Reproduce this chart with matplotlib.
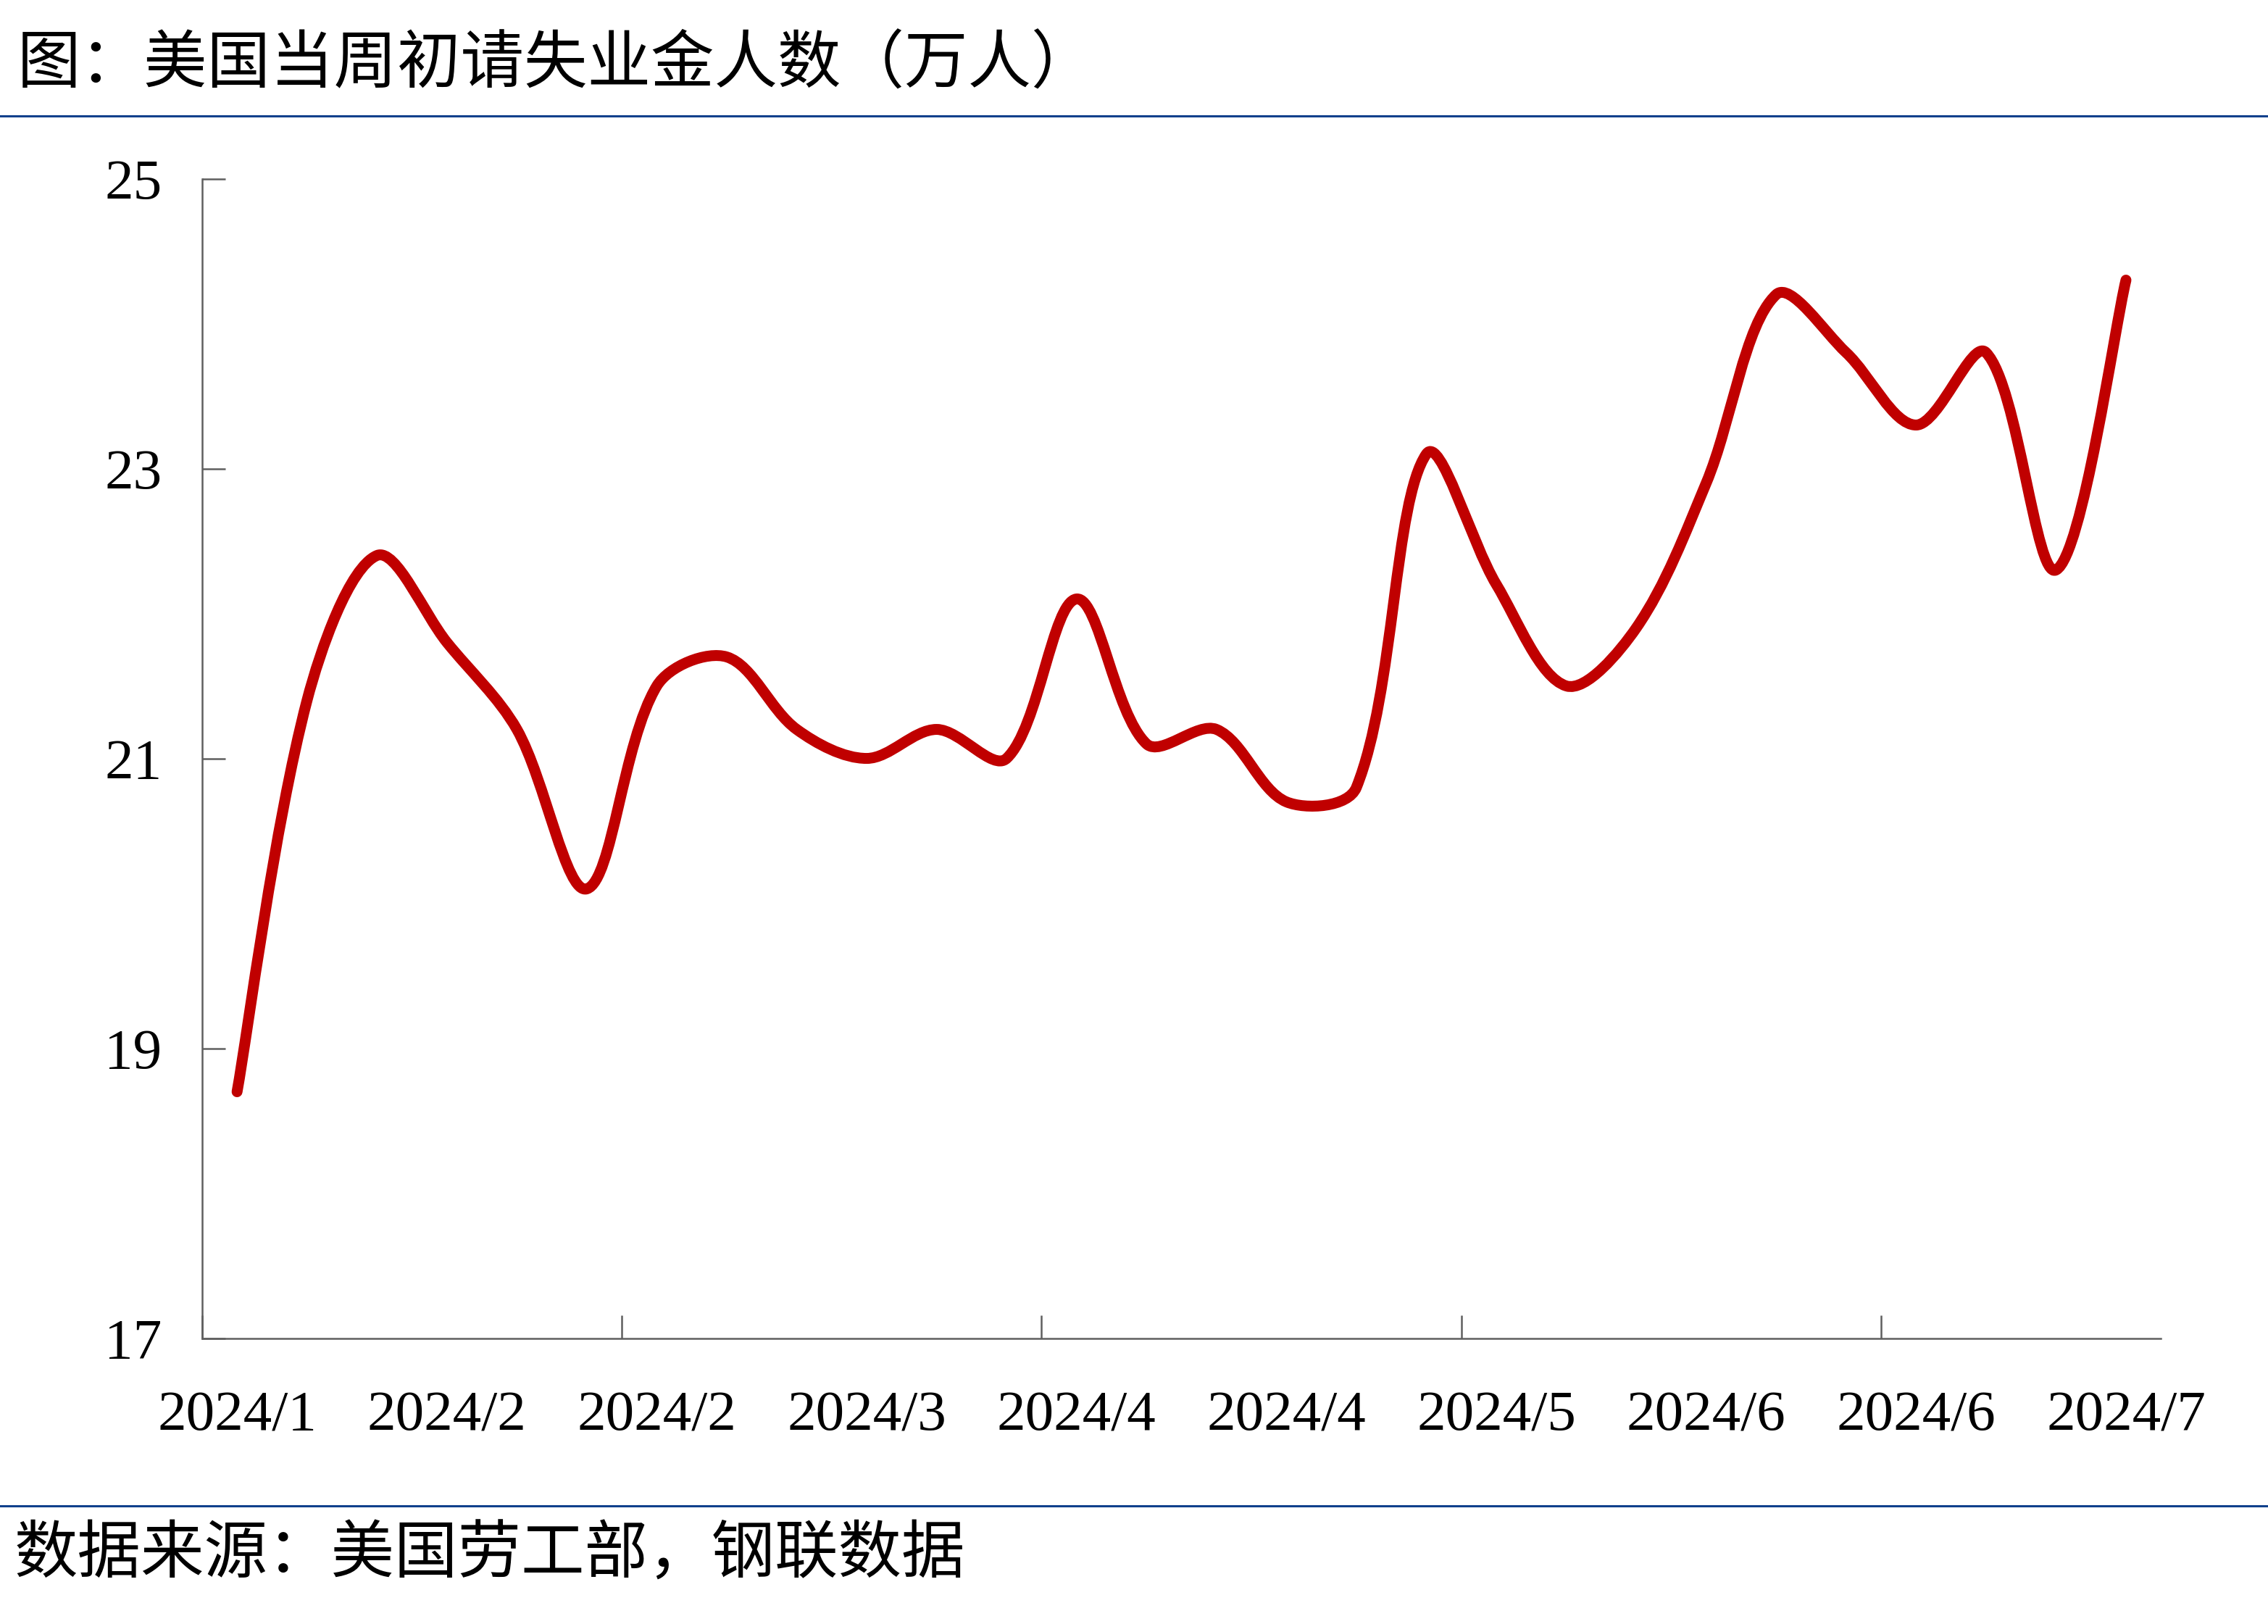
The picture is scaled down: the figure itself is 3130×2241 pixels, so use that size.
import matplotlib
matplotlib.use("Agg")
import matplotlib.pyplot as plt
import numpy as np
from matplotlib.path import Path
from matplotlib.patches import PathPatch
from matplotlib.lines import Line2D

# weekly initial jobless claims, 10k persons (week ending)
weeks = ["2024-01-13", "2024-01-20", "2024-01-27", "2024-02-03", "2024-02-10",
         "2024-02-17", "2024-02-24", "2024-03-02", "2024-03-09", "2024-03-16",
         "2024-03-23", "2024-03-30", "2024-04-06", "2024-04-13", "2024-04-20",
         "2024-04-27", "2024-05-04", "2024-05-11", "2024-05-18", "2024-05-25",
         "2024-06-01", "2024-06-08", "2024-06-15", "2024-06-22", "2024-06-29",
         "2024-07-06", "2024-07-13", "2024-07-20"]
claims = [18.7, 21.4, 22.4, 21.8, 21.2, 20.1, 21.5, 21.7, 21.2, 21.0,
          21.2, 21.0, 22.1, 21.1, 21.2, 20.7, 20.8, 23.1, 22.2, 21.5,
          21.9, 22.9, 24.2, 23.8, 23.3, 23.8, 22.3, 24.3]
label_idx = [0, 3, 6, 9, 12, 15, 18, 21, 24, 27]
x_labels = ["2024/1", "2024/2", "2024/2", "2024/3", "2024/4",
            "2024/4", "2024/5", "2024/6", "2024/6", "2024/7"]
y_ticks = [17, 19, 21, 23, 25]

title = "图：美国当周初请失业金人数（万人）"
source = "数据来源：美国劳工部，钢联数据"

cjk = ["Noto Sans CJK SC", "DejaVu Sans"]
num_font = "Liberation Serif"
axis_gray = "#5f5f5f"
blue = "#10408c"

fig = plt.figure(figsize=(15.65, 11.205), dpi=200)
ax = fig.add_axes([0.0891, 0.1760, 0.8637, 0.7140])

x = np.arange(len(claims))
ax.set_xlim(-0.5, len(claims) - 0.5)
ax.set_ylim(17, 25)

# smooth line (excel-like bezier), control points computed in pixel space
pts = ax.transData.transform(np.column_stack([x, claims]))
n = len(pts)
verts = [pts[0]]
codes = [Path.MOVETO]
for i in range(n - 1):
    p0 = pts[max(i - 1, 0)]
    p1 = pts[i]
    p2 = pts[i + 1]
    p3 = pts[min(i + 2, n - 1)]
    d01 = np.hypot(*(p1 - p0))
    d12 = np.hypot(*(p2 - p1))
    d23 = np.hypot(*(p3 - p2))
    w1 = d12 / (d01 + d12) if d01 > 0 else 0.5
    w2 = d12 / (d12 + d23) if d23 > 0 else 0.5
    c1 = p1 + (p2 - p0) * w1 / 3
    c2 = p2 - (p3 - p1) * w2 / 3
    verts += [c1, c2, p2]
    codes += [Path.CURVE4] * 3
verts = ax.transData.inverted().transform(np.array(verts))
ax.add_patch(PathPatch(Path(verts, codes), fill=False, edgecolor="#C00000",
                       linewidth=5.4, capstyle="round", joinstyle="round"))

for side in ["top", "right"]:
    ax.spines[side].set_visible(False)
for side in ["left", "bottom"]:
    ax.spines[side].set_color(axis_gray)
    ax.spines[side].set_linewidth(0.9)

ax.set_yticks(y_ticks)
ax.set_yticklabels([str(v) for v in y_ticks], fontfamily=num_font, fontsize=28.5)
ax.tick_params(axis="y", direction="in", length=11.5, width=0.9,
               color=axis_gray, pad=20)

ax.set_xticks(label_idx)
ax.set_xticklabels(x_labels, fontfamily=num_font, fontsize=28.5)
ax.tick_params(axis="x", which="major", length=0, pad=26)
ax.set_xticks(np.arange(-0.5, len(claims), 6), minor=True)
ax.tick_params(axis="x", which="minor", direction="in", length=11.5,
               width=0.9, color=axis_gray)

fig.text(0.0077, 0.960, title, fontfamily=cjk, fontsize=31.5, va="center", ha="left")
fig.text(0.0064, 0.0424, source, fontfamily=cjk, fontsize=31.5, va="center", ha="left")
for yy in [0.9286, 0.0727]:
    fig.add_artist(Line2D([0, 1], [yy, yy], transform=fig.transFigure,
                          color=blue, linewidth=1.1))

fig.savefig("out.png", dpi=200, facecolor="white")
